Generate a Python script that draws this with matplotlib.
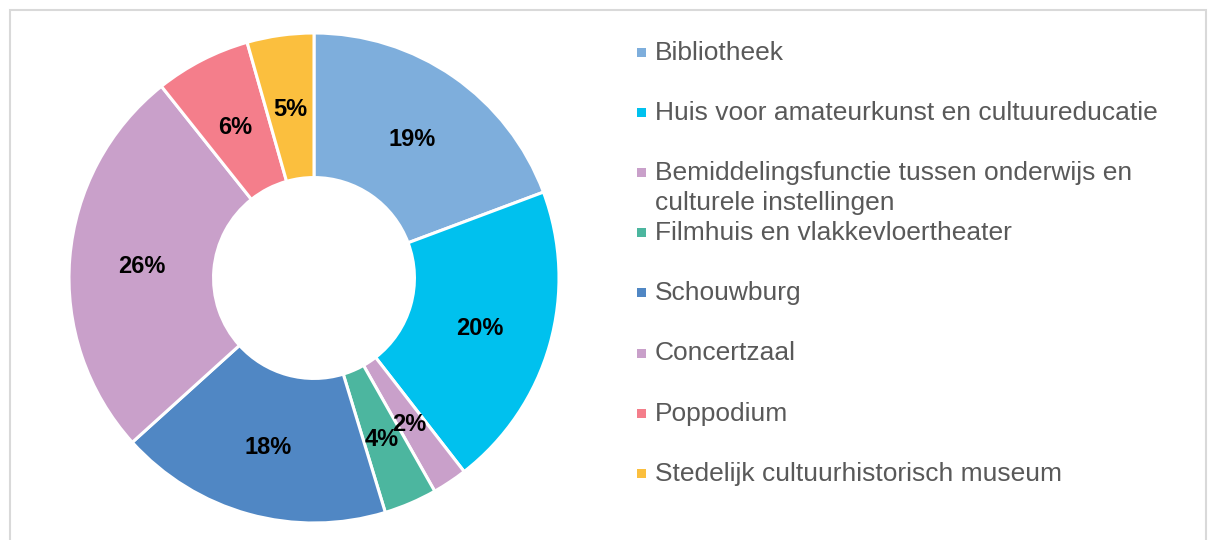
import matplotlib
matplotlib.use('Agg')
import matplotlib.pyplot as plt
from matplotlib.patches import Rectangle
from matplotlib.transforms import ScaledTranslation

plt.rcParams['font.family'] = ['Liberation Sans', 'DejaVu Sans']

# data: wedge shares measured from the chart, labels as printed on it
categories = [
    "Bibliotheek",
    "Huis voor amateurkunst en cultuureducatie",
    "Bemiddelingsfunctie tussen onderwijs en\nculturele instellingen",
    "Filmhuis en vlakkevloertheater",
    "Schouwburg",
    "Concertzaal",
    "Poppodium",
    "Stedelijk cultuurhistorisch museum",
]
shares = [19.3, 20.2, 2.3, 3.5, 18.0, 26.0, 6.3, 4.4]
pct_labels = ['19%', '20%', '2%', '4%', '18%', '26%', '6%', '5%']
colors = ['#7EAEDC', '#00C1EE', '#C9A0CA', '#4CB69F', '#5087C4',
          '#C9A0CA', '#F47E8B', '#FBBF3E']

W, H = 1211, 540
fig = plt.figure(figsize=(W / 100, H / 100), dpi=100)

# donut, centre at (314, 278) px, radius 245 px
cx, cy, r = 314, 278, 245
ax = fig.add_axes([(cx - r) / W, (H - cy - r) / H, 2 * r / W, 2 * r / H])
hole = 0.41
wedges, texts, autotexts = ax.pie(
    shares, colors=colors, startangle=90, counterclock=False, radius=1,
    autopct='%.0f%%', pctdistance=(1 + hole) / 2,
    wedgeprops=dict(width=1 - hole, edgecolor='white', linewidth=2.2),
    textprops=dict(fontsize=17, fontweight='bold', color='black'))
down = ScaledTranslation(0, -3 / 100, fig.dpi_scale_trans)
for t, lab in zip(autotexts, pct_labels):
    t.set_text(lab)
    t.set_transform(t.get_transform() + down)
ax.set_xlim(-1, 1)
ax.set_ylim(-1, 1)
ax.set_aspect('equal')
ax.axis('off')

# legend drawn by hand so the wrapped entry keeps the regular spacing
for i, (lab, col) in enumerate(zip(categories, colors)):
    base = 60 + 60.1 * i
    fig.add_artist(Rectangle((637 / W, 1 - (base - 3) / H), 9 / W, 9 / H,
                             transform=fig.transFigure, color=col, lw=0))
    for j, line in enumerate(lab.split('\n')):
        fig.text(655 / W, 1 - (base + 30 * j) / H, line, fontsize=19,
                 color='#595959', va='baseline', ha='left')

# light grey frame
fig.add_artist(Rectangle((9.5 / W, -0.05), 1196 / W, 1.05 - 9.5 / H,
                         transform=fig.transFigure, fill=False,
                         ec='#D9D9D9', lw=1.5))

fig.savefig('out.png', dpi=100)
